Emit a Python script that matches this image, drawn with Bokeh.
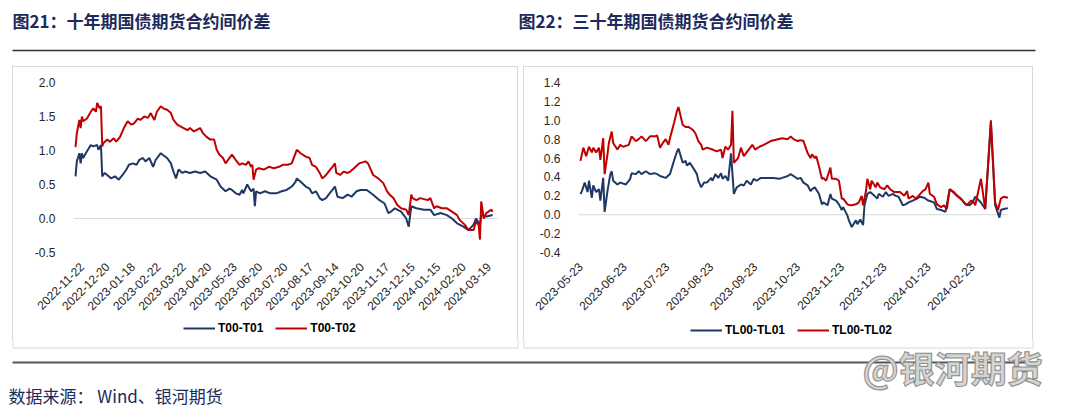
import math
import pandas as pd
from bokeh.plotting import figure
from bokeh.models import (Range1d, FixedTicker, NumeralTickFormatter, DatetimeTickFormatter,
                          Span, Legend, LegendItem, Spacer)
from bokeh.layouts import column, row
from bokeh.core.properties import value
from bokeh.embed import file_html
from bokeh.resources import INLINE

# ---------------- texts ----------------
TITLE_LEFT = "图21：十年期国债期货合约间价差"
TITLE_RIGHT = "图22：三十年期国债期货合约间价差"
SOURCE = "数据来源： Wind、银河期货"
WATERMARK = "@银河期货"
T_NAMES = ["T00-T01", "T00-T02"]
TL_NAMES = ["TL00-TL01", "TL00-TL02"]

# ---------------- left chart: 10Y (trading-day index) ----------------
t_tick_idx = [5, 25, 45, 65, 85, 105, 125, 145, 165, 185, 205, 225, 245, 265, 285, 305, 325]
t_tick_labels = ["2022-11-22", "2022-12-20", "2023-01-18", "2023-02-22", "2023-03-22",
                 "2023-04-20", "2023-05-23", "2023-06-20", "2023-07-20", "2023-08-17",
                 "2023-09-14", "2023-10-20", "2023-11-17", "2023-12-15", "2024-01-15",
                 "2024-02-20", "2024-03-19"]
t_yticks = [-0.5, 0.0, 0.5, 1.0, 1.5, 2.0]

t01_idx = [0, 1, 3, 4, 5, 6, 9, 12, 14, 17, 18, 20, 21, 23, 26, 28, 31, 34, 37, 40,
           42, 45, 48, 50, 53, 55, 58, 61, 63, 67, 69, 72, 75, 77, 79, 81, 84, 86, 90, 94,
           98, 102, 106, 111, 114, 118, 121, 123, 126, 129, 131, 132, 135, 138, 140, 141, 142, 145, 149, 153,
           158, 162, 166, 170, 173, 174, 177, 181, 184, 186, 189, 192, 194, 197, 199, 202, 204, 206, 210, 214,
           217, 221, 224, 229, 234, 239, 243, 246, 248, 251, 256, 260, 262, 264, 268, 274, 279, 282, 287, 292,
           296, 300, 305, 309, 313, 315, 318, 319, 323, 328]
t01_val = [0.62, 0.84, 0.96, 0.81, 0.96, 0.89, 0.99, 1.08, 1.06, 1.08, 1.01, 1.08, 0.62, 0.67, 0.62, 0.59, 0.62, 0.57, 0.64, 0.72,
           0.79, 0.81, 0.79, 0.86, 0.89, 0.84, 0.89, 0.76, 0.86, 0.96, 0.93, 0.89, 0.81, 0.69, 0.59, 0.72, 0.67, 0.69, 0.67, 0.69,
           0.67, 0.69, 0.62, 0.57, 0.47, 0.40, 0.44, 0.42, 0.37, 0.35, 0.42, 0.37, 0.50, 0.40, 0.44, 0.18, 0.40, 0.37, 0.40, 0.37,
           0.37, 0.40, 0.42, 0.47, 0.54, 0.59, 0.54, 0.47, 0.44, 0.37, 0.40, 0.30, 0.27, 0.30, 0.35, 0.42, 0.47, 0.32, 0.30, 0.35,
           0.32, 0.40, 0.42, 0.42, 0.35, 0.27, 0.22, 0.08, 0.10, 0.15, 0.10, 0.00, -0.12, 0.18, 0.15, 0.13, 0.13, 0.05, 0.08, 0.05,
           0.00, -0.07, -0.12, -0.17, -0.09, 0.00, -0.10, 0.05, 0.03, 0.05]

t02_idx = [0, 1, 3, 4, 5, 6, 9, 12, 14, 16, 17, 19, 20, 21, 22, 25, 27, 30, 32, 35,
           38, 41, 44, 46, 49, 51, 54, 57, 59, 62, 64, 67, 69, 72, 75, 77, 80, 82, 85, 88,
           90, 93, 95, 98, 100, 103, 106, 109, 111, 113, 116, 118, 121, 123, 126, 129, 131, 134, 136, 138,
           139, 140, 142, 144, 148, 152, 156, 160, 163, 167, 170, 172, 174, 177, 181, 184, 186, 189, 192, 194,
           197, 199, 202, 204, 205, 208, 211, 214, 216, 219, 223, 228, 230, 234, 238, 242, 245, 247, 250, 253,
           256, 260, 262, 264, 265, 268, 271, 277, 279, 282, 284, 288, 292, 296, 300, 302, 306, 309, 313, 315,
           317, 318, 319, 321, 323, 327, 328]
t02_val = [1.05, 1.25, 1.45, 1.33, 1.50, 1.43, 1.47, 1.57, 1.62, 1.57, 1.70, 1.62, 1.65, 1.06, 1.11, 1.16, 1.13, 1.18, 1.13, 1.20,
           1.33, 1.43, 1.38, 1.40, 1.47, 1.45, 1.50, 1.48, 1.55, 1.45, 1.57, 1.65, 1.62, 1.60, 1.55, 1.45, 1.38, 1.36, 1.33, 1.30,
           1.33, 1.28, 1.30, 1.33, 1.26, 1.20, 1.16, 1.16, 1.01, 0.94, 0.89, 0.81, 0.89, 0.94, 0.86, 0.79, 0.81, 0.79, 0.84, 0.76,
           0.79, 0.57, 0.72, 0.74, 0.72, 0.76, 0.74, 0.76, 0.79, 0.79, 0.81, 0.91, 1.01, 0.96, 0.91, 0.89, 0.79, 0.76, 0.67, 0.59,
           0.64, 0.69, 0.76, 0.81, 0.67, 0.64, 0.69, 0.67, 0.69, 0.74, 0.81, 0.84, 0.81, 0.64, 0.59, 0.52, 0.40, 0.35, 0.30, 0.20,
           0.15, 0.13, 0.05, 0.35, 0.30, 0.27, 0.30, 0.27, 0.30, 0.15, 0.18, 0.15, 0.15, 0.10, 0.05, -0.02, -0.09, -0.17, -0.17, -0.04,
           -0.10, -0.31, 0.25, 0.00, 0.08, 0.13, 0.10]

# ---------------- right chart: 30Y (calendar days since start) ----------------
tl_start = "2023-05-23"
tl_tick_labels = ["2023-05-23", "2023-06-23", "2023-07-23", "2023-08-23", "2023-09-23",
                  "2023-10-23", "2023-11-23", "2023-12-23", "2024-01-23", "2024-02-23"]
tl_yticks = [-0.4, -0.2, 0.0, 0.2, 0.4, 0.6, 0.8, 1.0, 1.2, 1.4]

tl01_day = [0, 1, 3, 5, 6, 8, 9, 11, 13, 14, 16, 17, 19, 21, 22, 23, 26, 28, 32, 35,
            36, 39, 41, 43, 46, 49, 52, 54, 56, 60, 63, 66, 68, 69, 72, 74, 75, 77, 80, 82,
            83, 85, 87, 89, 92, 93, 95, 97, 99, 100, 102, 104, 106, 108, 110, 113, 115, 117, 120, 122,
            124, 127, 131, 136, 140, 142, 146, 148, 150, 153, 155, 157, 160, 162, 163, 165, 168, 170, 171, 174,
            176, 177, 180, 182, 184, 185, 188, 189, 191, 194, 195, 197, 199, 200, 202, 204, 207, 209, 210, 213,
            215, 217, 220, 222, 224, 227, 229, 231, 234, 237, 239, 242, 245, 249, 251, 254, 257, 260, 264, 268,
            271, 274, 276, 278, 282, 285, 289, 292, 295, 296, 298, 301]
tl01_val = [0.22, 0.25, 0.34, 0.24, 0.36, 0.18, 0.31, 0.24, 0.27, 0.15, 0.39, 0.03, 0.25, 0.43, 0.46, 0.36, 0.32, 0.34, 0.32, 0.38,
            0.44, 0.43, 0.46, 0.43, 0.46, 0.43, 0.44, 0.43, 0.41, 0.39, 0.43, 0.58, 0.67, 0.70, 0.55, 0.57, 0.52, 0.55, 0.48, 0.43,
            0.36, 0.29, 0.34, 0.34, 0.39, 0.36, 0.43, 0.39, 0.44, 0.38, 0.41, 0.36, 0.65, 0.22, 0.29, 0.32, 0.31, 0.36, 0.32, 0.38,
            0.36, 0.39, 0.39, 0.39, 0.38, 0.39, 0.41, 0.43, 0.41, 0.38, 0.39, 0.34, 0.31, 0.25, 0.27, 0.29, 0.22, 0.11, 0.13, 0.10,
            0.22, 0.17, 0.15, 0.11, 0.05, 0.08, -0.01, -0.06, -0.13, -0.06, -0.10, -0.05, -0.11, 0.10, 0.22, 0.24, 0.20, 0.17, 0.22, 0.19,
            0.24, 0.20, 0.22, 0.20, 0.19, 0.10, 0.11, 0.13, 0.15, 0.17, 0.19, 0.18, 0.15, 0.13, 0.06, 0.05, 0.03, 0.27, 0.22, 0.17,
            0.11, 0.10, 0.13, 0.19, 0.13, 0.06, 0.97, 0.10, -0.03, 0.05, 0.06, 0.07]

tl02_day = [0, 2, 4, 6, 8, 9, 11, 13, 14, 16, 17, 19, 20, 22, 23, 26, 28, 30, 34, 36,
            39, 41, 43, 46, 49, 53, 54, 56, 58, 60, 62, 63, 66, 68, 69, 72, 74, 76, 79, 81,
            83, 85, 86, 89, 93, 96, 99, 100, 102, 104, 106, 107, 108, 111, 113, 115, 117, 121, 123, 126,
            129, 134, 139, 142, 146, 148, 150, 153, 155, 157, 160, 162, 163, 165, 166, 168, 170, 171, 173, 176,
            177, 180, 182, 184, 185, 188, 190, 191, 194, 196, 198, 199, 201, 202, 204, 205, 208, 209, 211, 214,
            216, 218, 221, 223, 225, 228, 230, 231, 234, 236, 238, 241, 243, 245, 246, 249, 251, 254, 256, 258,
            260, 263, 265, 269, 272, 275, 277, 278, 282, 285, 289, 292, 294, 296, 298, 301]
tl02_val = [0.57, 0.71, 0.62, 0.72, 0.66, 0.71, 0.66, 0.71, 0.58, 0.81, 0.43, 0.64, 0.76, 0.88, 0.76, 0.69, 0.74, 0.72, 0.74, 0.83,
            0.78, 0.80, 0.83, 0.78, 0.83, 0.83, 0.84, 0.71, 0.76, 0.80, 0.74, 0.81, 0.98, 1.10, 1.14, 0.95, 0.93, 0.93, 0.90, 0.86,
            0.78, 0.74, 0.69, 0.71, 0.69, 0.67, 0.69, 0.60, 0.72, 0.69, 0.74, 1.10, 0.55, 0.60, 0.71, 0.62, 0.66, 0.74, 0.69, 0.72,
            0.74, 0.78, 0.80, 0.81, 0.80, 0.83, 0.80, 0.78, 0.79, 0.78, 0.65, 0.60, 0.64, 0.60, 0.62, 0.51, 0.38, 0.39, 0.36, 0.50,
            0.38, 0.38, 0.36, 0.17, 0.17, 0.11, 0.10, 0.10, 0.11, 0.13, 0.20, 0.10, 0.25, 0.38, 0.27, 0.36, 0.29, 0.34, 0.29, 0.27,
            0.31, 0.27, 0.24, 0.24, 0.24, 0.20, 0.25, 0.17, 0.20, 0.17, 0.20, 0.25, 0.27, 0.34, 0.22, 0.19, 0.11, 0.08, 0.10, 0.06,
            0.27, 0.24, 0.20, 0.15, 0.10, 0.15, 0.13, 0.10, 0.38, 0.06, 1.00, 0.13, 0.05, 0.17, 0.19, 0.18]

# ---------------- styles ----------------
NAVY = "#1f3864"
RED = "#c00000"
TITLE_C = "#1c2a5c"
GRAYLINE = "#d9d9d9"
CJK = "Noto Sans CJK SC"
LAT = "Liberation Sans"


def deco_fig(w, h, top, bottom):
    p = figure(width=w, height=h, x_range=Range1d(0, w), y_range=Range1d(bottom, top),
               output_backend="svg", toolbar_location=None, title=None,
               x_axis_location=None, y_axis_location=None, min_border=0)
    p.grid.visible = False
    p.outline_line_color = None
    return p


def chart_fig(w, h, xr, yr, left, right, top, bottom, x_type="linear"):
    p = figure(width=w, height=h, x_range=xr, y_range=yr, x_axis_type=x_type,
               output_backend="svg", toolbar_location=None, title=None,
               min_border_left=left, min_border_right=right,
               min_border_top=top, min_border_bottom=bottom)
    p.grid.visible = False
    p.outline_line_color = None
    for ax in (p.xaxis[0], p.yaxis[0]):
        ax.axis_line_color = None
        ax.major_tick_line_color = None
        ax.minor_tick_line_color = None
        ax.major_label_text_font = LAT
        ax.major_label_text_font_size = "12px"
        ax.major_label_text_color = "#262626"
    p.yaxis[0].major_label_standoff = 12
    p.xaxis[0].major_label_standoff = 6
    p.xaxis[0].major_label_orientation = math.pi / 4
    p.add_layout(Span(location=0, dimension="width", line_color=GRAYLINE,
                      line_width=1, level="underlay"))
    return p


def legend_fig(w, h, names, loc):
    # strip under the chart that carries the series key; its stub lines sit
    # outside the visible range so only the key itself shows
    p = figure(width=w, height=h, x_range=Range1d(0, 1), y_range=Range1d(0, 1),
               output_backend="svg", toolbar_location=None, title=None,
               x_axis_location=None, y_axis_location=None, min_border=0)
    p.grid.visible = False
    p.outline_line_color = None
    ra = p.line(x=[5, 6], y=[5, 5], line_color=NAVY, line_width=2)
    rb = p.line(x=[5, 6], y=[5, 5], line_color=RED, line_width=2)
    leg = Legend(items=[LegendItem(label=names[0], renderers=[ra]),
                        LegendItem(label=names[1], renderers=[rb])],
                 orientation="horizontal", location=loc,
                 label_text_font=LAT, label_text_font_size="12px",
                 label_text_font_style="bold", label_text_color="#000000",
                 glyph_width=32, glyph_height=16, label_height=16, label_standoff=3,
                 spacing=12, padding=0, margin=0, border_line_color=None,
                 background_fill_alpha=0)
    p.add_layout(leg)
    return p


# ---------------- header ----------------
head = deco_fig(1080, 66, 0, 66)
head.text(x=[12, 518], y=[20, 20], text=[TITLE_LEFT, TITLE_RIGHT],
          text_font=value(CJK), text_font_style="bold", text_font_size="17px",
          text_color=TITLE_C, text_baseline="middle", text_align="left")
head.line(x=[12, 1035], y=[50, 50], line_color="#333333", line_width=1.5)

# ---------------- left chart ----------------
p1 = chart_fig(504, 250, Range1d(-1.6, 331.8), Range1d(-0.5, 2.0), 60, 20, 15, 65)
p1.xaxis[0].ticker = FixedTicker(ticks=t_tick_idx)
p1.xaxis[0].major_label_overrides = dict(zip(t_tick_idx, t_tick_labels))
p1.yaxis[0].ticker = FixedTicker(ticks=t_yticks)
p1.yaxis[0].formatter = NumeralTickFormatter(format="0.0")
p1.line(t01_idx, t01_val, line_color=NAVY, line_width=2)
p1.line(t02_idx, t02_val, line_color=RED, line_width=2)
l1 = legend_fig(504, 23, T_NAMES, (110, 4))

# ---------------- right chart ----------------
base = pd.Timestamp(tl_start)
tl01_x = base + pd.to_timedelta(tl01_day, unit="D")
tl02_x = base + pd.to_timedelta(tl02_day, unit="D")
xr2 = Range1d(start=base - pd.Timedelta(days=1.4), end=base + pd.Timedelta(days=301.4))
p2 = chart_fig(508, 250, xr2, Range1d(-0.4, 1.4), 54, 24, 15, 63, x_type="datetime")
p2.xaxis[0].ticker = FixedTicker(ticks=[pd.Timestamp(s).value / 1e6 for s in tl_tick_labels])
p2.xaxis[0].formatter = DatetimeTickFormatter(days="%Y-%m-%d", months="%Y-%m-%d",
                                              years="%Y-%m-%d")
p2.yaxis[0].ticker = FixedTicker(ticks=tl_yticks)
p2.yaxis[0].formatter = NumeralTickFormatter(format="0.0")
p2.line(tl01_x, tl01_val, line_color=NAVY, line_width=2)
p2.line(tl02_x, tl02_val, line_color=RED, line_width=2)
l2 = legend_fig(508, 23, TL_NAMES, (112, 2))

# ---------------- footer (page y 340..418) ----------------
foot = deco_fig(1080, 78, 340, 418)
for xl, xr in ((12.5, 517.5), (523.5, 1032.5)):
    foot.line(x=[xl, xl, xr, xr], y=[340, 347.5, 347.5, 340], line_color=GRAYLINE, line_width=1)
foot.line(x=[12, 1040], y=[362, 362], line_color="#555555", line_width=2)
foot.text(x=[8], y=[395], text=[SOURCE], text_font=value(CJK), text_font_size="17px",
          text_color=TITLE_C, text_baseline="middle", text_align="left")
foot.text(x=[862], y=[366], text=[WATERMARK], text_font=value(CJK), text_font_style="bold",
          text_font_size="36px", text_color="#d4d4d4", text_outline_color="#8c8c8c",
          text_baseline="middle", text_align="left")


# ---------------- boxes ----------------
def gray(w, h):
    return Spacer(width=w, height=h, styles={"background-color": GRAYLINE})


def boxed(p, leg, w, h):
    return column(gray(w + 2, 1), row(gray(1, h), column(p, leg), gray(1, h)))


charts = row(Spacer(width=12, height=274), boxed(p1, l1, 504, 273), Spacer(width=5, height=274),
             boxed(p2, l2, 508, 273), Spacer(width=47, height=274))
page = column(head, charts, foot)

open("out.html", "w").write(file_html(page, INLINE))
